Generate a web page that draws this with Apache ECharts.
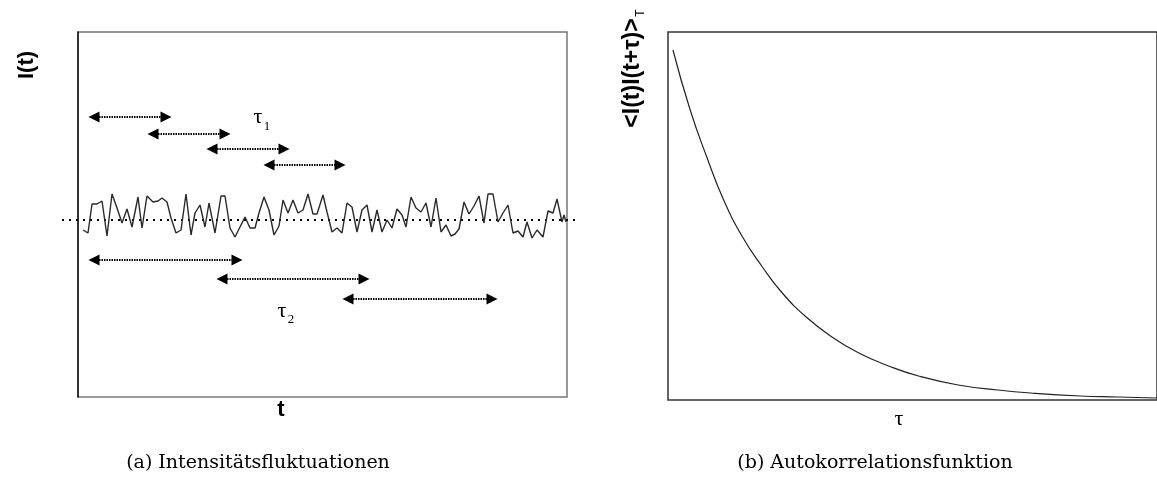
<!DOCTYPE html>
<html>
<head>
<meta charset="utf-8">
<script src="https://cdn.jsdelivr.net/npm/echarts@6/dist/echarts.min.js"></script>
<style>
  html, body { margin: 0; padding: 0; background: #fff; }
  #chart { width: 1157px; height: 478px; }
</style>
</head>
<body>
<div id="chart"></div>
<script>
// (a) intensity trace
const noiseT = [5, 10, 14, 19, 24, 29, 34, 39, 44, 49, 54, 60, 64, 69, 75, 80, 84, 89, 93, 98,
  103, 108, 113, 117, 122, 127, 131, 137, 143, 147, 152, 157, 162, 167, 172, 177, 181, 186, 191, 196,
  201, 205, 210, 215, 220, 225, 230, 235, 239, 245, 249, 254, 259, 264, 269, 274, 279, 284, 289, 294,
  299, 304, 309, 314, 319, 324, 328, 333, 338, 343, 348, 353, 358, 363, 368, 373, 377, 381, 386, 391,
  396, 401, 406, 410, 415, 420, 425, 430, 435, 440, 445, 449, 454, 459, 465, 470, 475, 479, 484, 486, 488]
const noiseI = [167, 164, 193, 193, 196, 161, 203, 189, 174, 188, 170, 200, 169, 201, 195, 196, 199, 195, 179, 164,
  167, 203, 162, 184, 192, 170, 194, 164, 201, 201, 169, 160, 170, 180, 169, 169, 184, 200, 187, 162,
  171, 197, 184, 197, 184, 187, 203, 183, 183, 202, 185, 165, 169, 164, 194, 190, 165, 187, 192, 165,
  187, 165, 177, 169, 188, 182, 170, 200, 189, 185, 194, 170, 199, 165, 172, 161, 163, 168, 195, 183,
  191, 201, 174, 203, 203, 175, 184, 192, 164, 166, 160, 175, 159, 167, 160, 186, 184, 198, 175, 182, 175]
const meanI = 177
const meanSpan = [-16, 500]

// double arrows: [start, end, level]
const arrowsTau1 = [[16, 88, 280], [75, 147, 263], [134, 206, 248], [191, 262, 232]]
const arrowsTau2 = [[16, 159, 137], [144, 286, 118], [270, 414, 98]]

// (b) autocorrelation curve
const acfTau = [5, 22, 39, 56, 75, 95, 115, 139, 165, 192, 222, 252, 292, 332, 365, 415, 452, 492]
const acfVal = [350, 291, 243, 200, 163, 133, 107, 83, 63, 47, 34, 24, 15, 10, 7, 4, 3, 2]

const chart = echarts.init(document.getElementById('chart'))

const hiddenAxis = {
  show: false
}

const arrowData = (list) => list.map(a => ({ coords: [[a[0], a[2]], [a[1], a[2]]] }))

const arrowSeries = (list) => ({
  type: 'lines',
  coordinateSystem: 'cartesian2d',
  xAxisIndex: 0,
  yAxisIndex: 0,
  symbol: ['triangle', 'triangle'],
  symbolSize: 11,
  lineStyle: { color: '#000', width: 2.2, type: [1.5, 1], opacity: 1 },
  data: arrowData(list),
  silent: true,
  z: 4
})

const sans = 'Liberation Sans'
const serif = 'DejaVu Serif'

const option = {
  animation: false,
  backgroundColor: '#fff',
  grid: [
    { left: 78, top: 32, width: 489, height: 365, show: true, borderColor: '#777', borderWidth: 1.5 },
    { left: 62, top: 32, width: 516, height: 365 },
    { left: 668, top: 32, width: 492, height: 368, show: true, borderColor: '#333', borderWidth: 1.5 }
  ],
  xAxis: [
    { gridIndex: 0, type: 'value', min: 0, max: 489, axisLine: { show: false }, axisTick: { show: false }, axisLabel: { show: false }, splitLine: { show: false } },
    Object.assign({ gridIndex: 1, type: 'value', min: meanSpan[0], max: meanSpan[1] }, hiddenAxis),
    { gridIndex: 2, type: 'value', min: 0, max: 492, axisLine: { show: false }, axisTick: { show: false }, axisLabel: { show: false }, splitLine: { show: false } }
  ],
  yAxis: [
    { gridIndex: 0, type: 'value', min: 0, max: 365, axisLine: { show: true, onZero: false, lineStyle: { color: '#111', width: 1.5 } }, axisTick: { show: false }, axisLabel: { show: false }, splitLine: { show: false } },
    Object.assign({ gridIndex: 1, type: 'value', min: 0, max: 365 }, hiddenAxis),
    { gridIndex: 2, type: 'value', min: 0, max: 368, axisLine: { show: false }, axisTick: { show: false }, axisLabel: { show: false }, splitLine: { show: false } }
  ],
  series: [
    {
      type: 'line',
      xAxisIndex: 1,
      yAxisIndex: 1,
      data: meanSpan.map(t => [t, meanI]),
      symbol: 'none',
      lineStyle: { color: '#000', width: 2, type: [2, 5] },
      silent: true,
      z: 2
    },
    {
      type: 'line',
      xAxisIndex: 0,
      yAxisIndex: 0,
      data: noiseT.map((t, i) => [t, noiseI[i]]),
      symbol: 'none',
      lineStyle: { color: '#2a2a2a', width: 1.4 },
      silent: true,
      z: 3
    },
    arrowSeries(arrowsTau1),
    arrowSeries(arrowsTau2),
    {
      type: 'line',
      xAxisIndex: 2,
      yAxisIndex: 2,
      data: acfTau.map((t, i) => [t, acfVal[i]]),
      symbol: 'none',
      smooth: true,
      lineStyle: { color: '#222', width: 1.2 },
      silent: true
    }
  ],
  graphic: [
    { type: 'text', x: 27, y: 65, rotation: Math.PI / 2, style: { text: 'I(t)', font: 'bold 22px "' + sans + '"', fill: '#000', align: 'center', verticalAlign: 'middle' } },
    { type: 'text', x: 281, y: 410, style: { text: 't', font: 'bold 22px "' + sans + '"', fill: '#000', align: 'center', verticalAlign: 'middle' } },
    { type: 'text', x: 258, y: 117, style: { text: 'τ', font: '22px "Liberation Serif"', fill: '#000', align: 'center', verticalAlign: 'middle' } },
    { type: 'text', x: 267, y: 127, style: { text: '1', font: '13px "Liberation Serif"', fill: '#000', align: 'center', verticalAlign: 'middle' } },
    { type: 'text', x: 282, y: 311, style: { text: 'τ', font: '22px "Liberation Serif"', fill: '#000', align: 'center', verticalAlign: 'middle' } },
    { type: 'text', x: 291, y: 320, style: { text: '2', font: '13px "Liberation Serif"', fill: '#000', align: 'center', verticalAlign: 'middle' } },
    { type: 'text', x: 258, y: 463, style: { text: '(a) Intensitätsfluktuationen', font: '19px "' + serif + '"', fill: '#000', align: 'center', verticalAlign: 'middle' } },
    { type: 'text', x: 633, y: 73, rotation: Math.PI / 2, style: { text: '<I(t)I(t+τ)>', font: 'bold 23px "' + sans + '"', fill: '#000', align: 'center', verticalAlign: 'middle' } },
    { type: 'text', x: 641, y: 13, rotation: Math.PI / 2, style: { text: 'T', font: '12px "' + sans + '"', fill: '#000', align: 'center', verticalAlign: 'middle' } },
    { type: 'text', x: 899, y: 419, style: { text: 'τ', font: '22px "Liberation Serif"', fill: '#000', align: 'center', verticalAlign: 'middle' } },
    { type: 'text', x: 875, y: 463, style: { text: '(b) Autokorrelationsfunktion', font: '19px "' + serif + '"', fill: '#000', align: 'center', verticalAlign: 'middle' } }
  ]
}

chart.setOption(option)
</script>
</body>
</html>
